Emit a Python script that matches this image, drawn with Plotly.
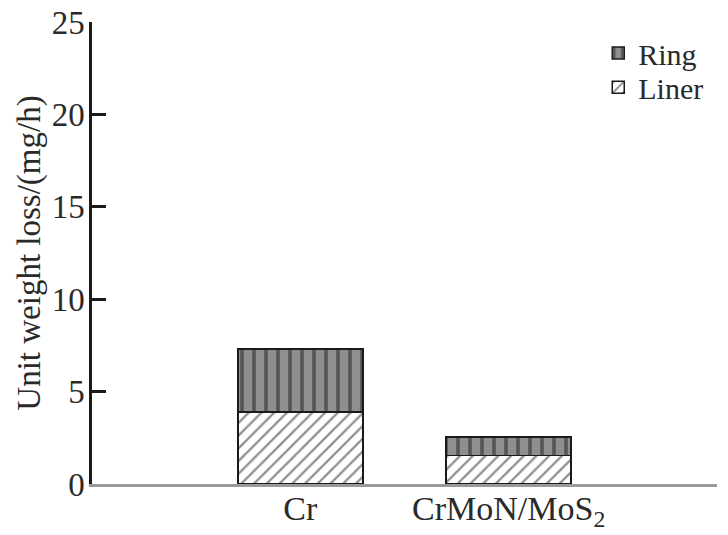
import plotly.graph_objects as go

categories = ["Cr", "CrMoN/MoS<sub>2</sub>"]
liner = [3.9, 1.55]
ring = [3.4, 1.0]
y_ticks = [0, 5, 10, 15, 20, 25]

FONT = "Liberation Serif, Times New Roman, serif"
TXT = "#2a2a2a"

fig = go.Figure()
fig.add_trace(go.Bar(
    x=categories, y=liner, name="Liner", width=0.6, legend="legend2",
    marker=dict(color="white", line=dict(color="#1a1a1a", width=1.5),
                pattern=dict(shape="/", fgcolor="#1a1a1a", bgcolor="white", size=9, solidity=0.25)),
))
fig.add_trace(go.Bar(
    x=categories, y=ring, name="Ring", width=0.6, legend="legend",
    marker=dict(color="#8a8a8a", line=dict(color="#1a1a1a", width=1.5),
                pattern=dict(shape="|", fgcolor="#1a1a1a", bgcolor="#8f8f8f", size=12, solidity=0.3)),
))

leg_common = dict(x=0.81, xanchor="left", yanchor="top", bgcolor="rgba(0,0,0,0)",
                  font=dict(family=FONT, size=30, color=TXT), itemwidth=30)

fig.update_layout(
    barmode="stack",
    width=728, height=535,
    margin=dict(l=92, r=11, t=22, b=51, autoexpand=False),
    paper_bgcolor="white", plot_bgcolor="white",
    font=dict(family=FONT, size=32, color=TXT),
    showlegend=True,
    legend=dict(y=0.989, **leg_common),
    legend2=dict(y=0.915, **leg_common),
)
fig.update_xaxes(
    range=[-1.0, 2.0], showline=True, linecolor="#9a9a9a", linewidth=3,
    ticks="", showgrid=False, zeroline=False, automargin=False,
    ticklabelstandoff=-8,
    tickfont=dict(family=FONT, size=34, color=TXT),
)
fig.update_yaxes(
    range=[0, 25], tickvals=y_ticks, showline=True, linecolor="#1a1a1a", linewidth=2.5,
    ticks="inside", ticklen=14, tickwidth=3, tickcolor="#1a1a1a",
    showgrid=False, zeroline=False, automargin=False, ticklabeloverflow="allow",
    ticklabelstandoff=-2,
    tickfont=dict(family=FONT, size=33, color=TXT),
    title=dict(text="Unit weight loss/(mg/h)", font=dict(family=FONT, size=33, color=TXT), standoff=2),
)

fig.write_html("out.html", config={"displayModeBar": False},
               post_script="document.body.style.margin='0';document.body.style.overflow='hidden';")
